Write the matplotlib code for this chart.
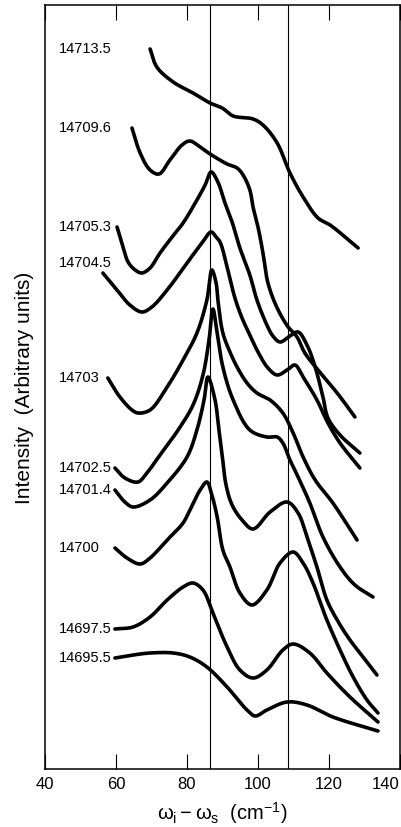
import numpy as np
import matplotlib
matplotlib.use("Agg")
import matplotlib.pyplot as plt

plt.rcParams['font.family'] = ['Liberation Sans', 'DejaVu Sans']
plt.rcParams['mathtext.fontset'] = 'custom'
plt.rcParams['mathtext.rm'] = 'Liberation Sans'
plt.rcParams['mathtext.it'] = 'Liberation Sans:italic'
plt.rcParams['mathtext.bf'] = 'Liberation Sans:bold'

# ---- data (x: Raman shift cm^-1, y: intensity, arbitrary units) ----
labels = ["14713.5", "14709.6", "14705.3", "14704.5", "14703",
          "14702.5", "14701.4", "14700", "14697.5", "14695.5"]

x_14713_5 = [69.6, 71.5, 76.1, 81.7, 86.5, 89.9, 93.0, 98.6, 101.4, 105.4, 109.0, 112.7, 116.9, 120.3, 128.2]
y_14713_5 = [72.0, 70.2, 68.7, 67.6, 66.6, 66.1, 65.3, 65.0, 64.4, 62.6, 59.6, 57.2, 55.1, 54.4, 52.1]

x_14709_6 = [64.5, 66.8, 69.6, 72.1, 75.2, 78.6, 80.8, 83.7, 86.5, 91.3, 94.1, 95.8, 97.7, 98.6, 100.0,
             101.4, 102.8, 105.4, 108.5, 111.0, 113.2, 116.9, 122.3, 127.3]
y_14709_6 = [64.1, 61.6, 59.9, 59.5, 60.9, 62.4, 62.8, 62.2, 61.5, 60.5, 60.1, 59.4, 57.9, 56.2, 54.2,
             51.6, 48.6, 46.1, 44.2, 43.2, 41.6, 39.9, 37.6, 35.2]

x_14705_3 = [60.3, 62.0, 63.4, 65.4, 67.3, 69.6, 72.4, 75.8, 78.9, 82.8, 85.1, 86.8, 88.7, 90.7, 92.7,
             94.9, 97.7, 99.7, 102.5, 104.2, 106.2, 109.0, 111.3, 113.8, 116.1, 118.3, 119.7, 123.1, 128.7]
y_14705_3 = [54.2, 52.2, 50.7, 49.9, 49.6, 50.1, 51.6, 53.2, 54.6, 56.9, 58.4, 59.7, 58.7, 56.6, 54.7,
             52.1, 49.4, 46.9, 44.4, 43.3, 42.7, 43.3, 43.7, 42.4, 40.2, 37.2, 35.1, 33.4, 31.6]

x_14704_5 = [56.3, 60.3, 63.9, 67.3, 70.1, 74.4, 80.0, 84.2, 86.8, 88.2, 89.3, 91.5, 93.5, 95.5, 97.7,
             100.0, 102.8, 105.4, 108.2, 110.4, 112.7, 116.6, 119.7, 123.1, 128.7]
y_14704_5 = [49.6, 47.9, 46.4, 45.7, 46.2, 47.9, 50.6, 52.6, 53.7, 53.2, 52.7, 49.9, 47.1, 45.1, 43.4,
             41.7, 40.1, 39.4, 39.9, 40.4, 39.2, 36.9, 34.6, 32.6, 30.1]

x_14703 = [57.7, 61.1, 64.5, 66.2, 69.6, 74.4, 78.9, 82.8, 85.6, 87.0, 88.2, 88.7, 90.1, 92.1, 94.1,
           96.9, 99.7, 103.4, 107.0, 109.9, 112.7, 116.1, 121.1, 127.9]
y_14703 = [39.1, 37.2, 35.9, 35.6, 35.9, 38.2, 40.9, 43.6, 46.9, 49.9, 48.6, 46.9, 43.6, 41.7, 40.2,
           38.6, 37.6, 36.9, 35.6, 33.6, 31.2, 28.9, 26.6, 22.9]

x_14702_5 = [59.7, 62.5, 66.2, 68.7, 72.4, 77.5, 81.7, 84.5, 86.2, 87.3, 88.5, 90.1, 93.0, 97.7, 102.5,
             105.4, 107.0, 109.0, 111.3, 114.6, 118.3, 123.1, 127.3, 132.4]
y_14702_5 = [30.1, 29.1, 28.7, 29.6, 31.4, 33.9, 36.4, 39.4, 42.9, 46.0, 43.6, 40.2, 36.9, 33.9, 33.2,
             33.2, 32.6, 30.9, 29.2, 26.6, 23.2, 20.2, 18.4, 17.2]

x_14701_4 = [59.7, 62.5, 64.8, 69.6, 74.4, 80.0, 82.8, 84.8, 85.9, 87.9, 89.0, 89.9, 91.0, 92.7, 95.5,
             98.6, 103.4, 108.2, 111.3, 113.8, 116.6, 119.4, 122.3, 125.9, 129.6, 133.5]
y_14701_4 = [27.9, 26.7, 26.2, 26.9, 28.6, 31.2, 33.9, 36.9, 39.2, 36.9, 33.9, 31.4, 28.4, 26.4, 24.9,
             24.0, 25.7, 26.7, 25.6, 23.2, 20.2, 16.9, 14.9, 12.9, 11.2, 9.4]

x_14700 = [59.7, 63.1, 66.8, 69.6, 74.4, 78.9, 80.8, 83.7, 85.6, 87.0, 88.5, 90.1, 92.1, 94.9, 98.3,
           102.5, 106.2, 109.9, 112.7, 115.5, 118.0, 119.4, 123.1, 126.8, 130.7, 133.8]
y_14700 = [22.1, 21.1, 20.5, 21.1, 22.9, 24.6, 25.9, 27.9, 28.7, 27.4, 25.2, 21.9, 20.2, 17.6, 16.4,
           17.9, 20.6, 21.7, 20.6, 18.6, 16.2, 14.9, 11.9, 9.2, 6.9, 5.6]

x_14697_5 = [59.7, 64.8, 69.6, 74.4, 78.9, 81.7, 84.5, 87.3, 91.3, 94.9, 98.6, 102.5, 107.0, 109.9,
             114.6, 119.4, 125.9, 133.8]
y_14697_5 = [14.0, 14.2, 15.2, 16.9, 18.2, 18.6, 17.9, 15.6, 12.2, 9.9, 9.1, 9.9, 11.9, 12.5,
             11.6, 9.6, 7.2, 4.7]

x_14695_5 = [59.7, 64.8, 69.6, 76.1, 80.8, 85.6, 91.3, 96.9, 99.2, 102.5, 108.2, 113.8, 121.1, 133.8]
y_14695_5 = [11.1, 11.4, 11.6, 11.6, 11.2, 10.2, 8.2, 5.9, 5.3, 5.9, 6.7, 6.4, 5.2, 3.8]

series_x = [x_14713_5, x_14709_6, x_14705_3, x_14704_5, x_14703,
            x_14702_5, x_14701_4, x_14700, x_14697_5, x_14695_5]
series_y = [y_14713_5, y_14709_6, y_14705_3, y_14704_5, y_14703,
            y_14702_5, y_14701_4, y_14700, y_14697_5, y_14695_5]

ref_lines = [86.4, 108.5]
xticks = [40, 60, 80, 100, 120, 140]


def catmull_rom(xs, ys, sx, sy, n_per=24, alpha=0.5):
    """Centripetal Catmull-Rom spline through the points (parametrised in display scale)."""
    P = np.column_stack([np.asarray(xs, float) * sx, np.asarray(ys, float) * sy])
    P = np.vstack([2 * P[0] - P[1], P, 2 * P[-1] - P[-2]])
    out = []
    for i in range(1, len(P) - 2):
        p0, p1, p2, p3 = P[i - 1], P[i], P[i + 1], P[i + 2]
        t0 = 0.0
        t1 = t0 + max(np.linalg.norm(p1 - p0), 1e-6) ** alpha
        t2 = t1 + max(np.linalg.norm(p2 - p1), 1e-6) ** alpha
        t3 = t2 + max(np.linalg.norm(p3 - p2), 1e-6) ** alpha
        t = np.linspace(t1, t2, n_per, endpoint=False)[:, None]
        a1 = (t1 - t) / (t1 - t0) * p0 + (t - t0) / (t1 - t0) * p1
        a2 = (t2 - t) / (t2 - t1) * p1 + (t - t1) / (t2 - t1) * p2
        a3 = (t3 - t) / (t3 - t2) * p2 + (t - t2) / (t3 - t2) * p3
        b1 = (t2 - t) / (t2 - t0) * a1 + (t - t0) / (t2 - t0) * a2
        b2 = (t3 - t) / (t3 - t1) * a2 + (t - t1) / (t3 - t1) * a3
        c = (t2 - t) / (t2 - t1) * b1 + (t - t1) / (t2 - t1) * b2
        out.append(c)
    out.append(P[-2][None, :])
    C = np.vstack(out)
    return C[:, 0] / sx, C[:, 1] / sy


fig = plt.figure(figsize=(4.02, 8.27), dpi=100)
ax = fig.add_axes([45 / 402, 58 / 827, 355 / 402, 764 / 827])
ax.set_xlim(40, 140)
ax.set_ylim(0, 76.4)

# display scale (pixels per data unit) for a smooth, isotropic parametrisation
bb = ax.get_position()
sx = bb.width * fig.get_figwidth() * fig.dpi / 100.0
sy = bb.height * fig.get_figheight() * fig.dpi / 76.4

for xv in ref_lines:
    ax.axvline(xv, color='black', lw=0.8, zorder=1)

for xs, ys in zip(series_x, series_y):
    cx, cy = catmull_rom(xs, ys, sx, sy)
    ax.plot(cx, cy, color='black', lw=2.6,
            solid_capstyle='round', solid_joinstyle='round', zorder=3)

label_nudge = {"14704.5": 1.0}
for lab, ys in zip(labels, series_y):
    ax.text(44.0, ys[0] + label_nudge.get(lab, 0.0), lab, ha='left', va='center',
            fontsize=10.5, color='black')

ax.set_xticks(xticks)
ax.set_xticklabels([str(t) for t in xticks], fontsize=12)
ax.set_yticks([])
ax.tick_params(axis='x', direction='in', length=11, width=0.8, top=True, pad=6)
for sp in ax.spines.values():
    sp.set_linewidth(1.1)
tl = ax.get_xticklabels()
tl[-1].set_ha('right')
tl[-1].set_x(140)

fig.text(222 / 402, 1 - 813 / 827, r'$\mathrm{\omega_i - \omega_s}$  (cm$^{-1}$)',
         ha='center', va='center', fontsize=14.5)
fig.text(25 / 402, 1 - 388 / 827, 'Intensity  (Arbitrary units)', rotation=90,
         ha='center', va='center', fontsize=15)

fig.savefig('out.png', dpi=100)
